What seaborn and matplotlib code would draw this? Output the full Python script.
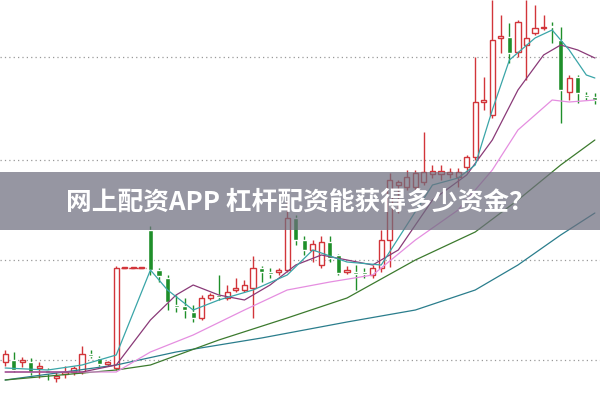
import numpy as np
import pandas as pd
import matplotlib
matplotlib.use("Agg")
import matplotlib.pyplot as plt
import seaborn as sns

sns.set_style("white")
plt.rcParams['font.family'] = ['Noto Sans CJK SC', 'DejaVu Sans']

# candle data (price units)
opens = [38, 40, 38, 38, 32, 30, 22, 26, 28, 28, 46, 42, 36, 32, 132, 132, 132,
         170, 130, 122, 95, 94, 88, 82, 102, 105, 102, 110, 110, 112, 132, 128, 128,
         130, 182, 160, 150, 135, 158, 145, 128, 128, 128, 125, 132, 160, 215, 213,
         213, 218, 226, 226, 226, 223, 233, 243, 298, 285, 362, 363, 348, 355, 367,
         372, 374, 360, 308, 323, 305, 303]
closes = [46, 30, 40, 28, 34, 27, 24, 28, 32, 46, 44, 36, 38, 132, 132, 132, 132,
          130, 124, 98, 93, 90, 82, 102, 105, 103, 108, 112, 115, 132, 128, 126, 130,
          182, 160, 150, 156, 158, 142, 127, 130, 126, 126, 132, 160, 220, 218, 223,
          227, 228, 229, 229, 228, 228, 243, 298, 300, 360, 364, 347, 378, 362, 372,
          373, 373, 310, 322, 307, 303, 300]
highs = [50, 48, 43, 42, 38, 32, 28, 34, 34, 54, 50, 44, 39, 134, 132, 132, 132,
         174, 132, 125, 105, 102, 95, 105, 107, 125, 115, 122, 120, 144, 134, 132, 132,
         200, 185, 164, 160, 164, 164, 146, 134, 135, 132, 135, 170, 227, 220, 230,
         230, 268, 235, 235, 232, 232, 245, 343, 323, 400, 385, 377, 380, 400, 395,
         385, 378, 373, 325, 325, 308, 307]
lows = [34, 28, 33, 25, 22, 20, 18, 22, 25, 26, 42, 34, 34, 30, 132, 132, 132,
        125, 118, 90, 88, 82, 78, 80, 100, 100, 100, 108, 108, 82, 118, 122, 125,
        128, 155, 145, 138, 132, 138, 125, 126, 110, 122, 122, 128, 133, 187, 210,
        210, 215, 222, 220, 222, 213, 228, 240, 290, 282, 347, 337, 343, 320, 365,
        370, 357, 277, 300, 297, 300, 296]

# moving averages: (candle index, price)
ma5_idx = [0, 5, 9, 13, 17, 19, 22, 25, 29, 33, 36, 40, 44, 47, 50, 53, 55, 57, 59, 62, 64, 66, 68, 69]
ma5_val = [32, 30, 35, 45, 130, 110, 90, 100, 110, 125, 150, 138, 135, 175, 215, 222, 235, 290, 340, 362, 370, 350, 325, 322]
ma10_idx = [0, 9, 13, 17, 20, 22, 25, 28, 31, 34, 37, 40, 43, 46, 50, 54, 57, 60, 63, 65, 67, 69]
ma10_val = [28, 28, 35, 80, 105, 115, 105, 100, 115, 135, 145, 140, 135, 150, 200, 225, 260, 310, 345, 355, 350, 342]
ma20_idx = [0, 13, 17, 22, 28, 33, 38, 43, 48, 53, 57, 60, 64, 66, 69]
ma20_val = [28, 28, 48, 65, 90, 110, 118, 125, 160, 190, 230, 270, 300, 298, 300]
ma30_idx = [0, 13, 17, 25, 33, 40, 48, 55, 60, 65, 69]
ma30_val = [20, 30, 35, 60, 82, 102, 140, 168, 200, 235, 260]
ma60_idx = [0, 13, 20, 30, 40, 48, 55, 60, 65, 69]
ma60_val = [20, 35, 48, 62, 78, 90, 110, 135, 165, 187]

title = "网上配资APP 杠杆配资能获得多少资金？"

fig, ax = plt.subplots(figsize=(6, 4), dpi=100)
fig.subplots_adjust(left=0, right=1, top=1, bottom=0)

df = pd.DataFrame({"o": opens, "c": closes, "h": highs, "l": lows})
df["i"] = np.arange(len(df))
up = df[df.c >= df.o]
dn = df[df.c < df.o]
red, green = "#d2353a", "#1f8f2a"

ax.vlines(up.i, up.l, up.h, color=red, lw=1, zorder=2)
ax.vlines(dn.i, dn.l, dn.h, color=green, lw=1, zorder=2)
ax.bar(up.i, (up.c - up.o).clip(lower=0.8), bottom=up.o, width=0.6,
       facecolor="white", edgecolor=red, lw=1, zorder=3)
ax.bar(dn.i, dn.c - dn.o, bottom=dn.o, width=0.6, color=green, zorder=3)
flat = df[(df.o == df.h) & (df.o == df.l)]
ax.hlines(flat.o, flat.i - 0.5, flat.i + 0.5, color=red, lw=1, linestyles="--", zorder=3)

for xs, ys, col in [(ma60_idx, ma60_val, "#2a7d8c"), (ma30_idx, ma30_val, "#3c7a2e"),
                    (ma20_idx, ma20_val, "#e58ee0"), (ma10_idx, ma10_val, "#8a3a78"),
                    (ma5_idx, ma5_val, "#3aa5a8")]:
    sns.lineplot(x=xs, y=ys, color=col, lw=0.9, ax=ax, zorder=4)

for g in [40, 140, 240, 343]:
    ax.axhline(g, color="#999999", lw=0.9, ls=(0, (1, 2.5)), zorder=1)

ax.set_xlim(-0.6, 69.6)
ax.set_ylim(0, 400)
ax.axis("off")

ax.axhspan(170, 228, color="#6e6e7e", alpha=0.72, zorder=6, lw=0)
ax.text(34.5, 198, title, color="white", fontsize=18.5, fontweight="bold",
        ha="center", va="center", zorder=7)

fig.savefig("out.png", dpi=100)
